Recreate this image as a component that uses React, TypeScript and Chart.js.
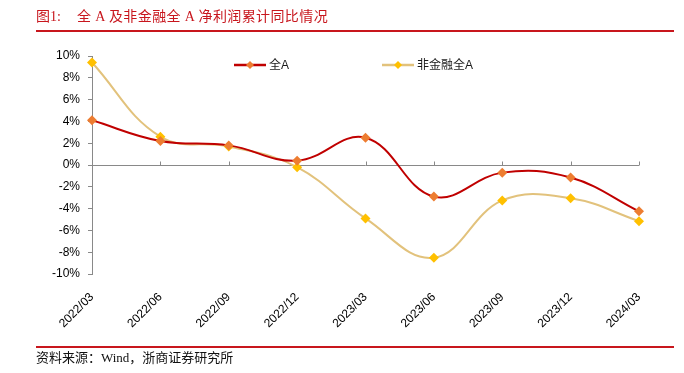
import React, { useEffect, useRef } from "react";
import { Chart, registerables } from "chart.js";

Chart.register(...registerables);

const categories = ["2022/03", "2022/06", "2022/09", "2022/12", "2023/03", "2023/06", "2023/09", "2023/12", "2024/03"];
const seriesAllA = [4.1, 2.2, 1.8, 0.4, 2.5, -2.9, -0.7, -1.15, -4.25];
const seriesNonFin = [9.4, 2.6, 1.7, -0.2, -4.9, -8.5, -3.25, -3.05, -5.15];
const seriesNames = ["全A", "非金融全A"];
const yTicks = { min: -10, max: 10, step: 2 };

const LINE_COLORS = ["#C00000", "#E2C27C"];
const MARKER_COLORS = ["#ED7D31", "#FFC000"];
const AXIS_COLOR = "#898989";
const FONT = "'Liberation Sans', Arial, 'Noto Sans CJK SC', sans-serif";

const zeroLinePlugin = {
  id: "zeroLine",
  beforeDatasetsDraw(chart: any) {
    const { ctx, chartArea, scales } = chart;
    const x = scales.x;
    const y = scales.y;
    const y0 = Math.round(y.getPixelForValue(0)) + 0.5;
    ctx.save();
    ctx.strokeStyle = AXIS_COLOR;
    ctx.lineWidth = 1;
    ctx.beginPath();
    ctx.moveTo(chartArea.left, y0);
    ctx.lineTo(chartArea.right, y0);
    for (let i = 0; i < categories.length; i++) {
      const px = Math.round(x.getPixelForValue(i)) + 0.5;
      ctx.moveTo(px, y0);
      ctx.lineTo(px, y0 - 4);
    }
    ctx.stroke();
    ctx.restore();
  },
};

function drawDiamond(ctx: CanvasRenderingContext2D, cx: number, cy: number, r: number, color: string) {
  ctx.beginPath();
  ctx.moveTo(cx, cy - r);
  ctx.lineTo(cx + r, cy);
  ctx.lineTo(cx, cy + r);
  ctx.lineTo(cx - r, cy);
  ctx.closePath();
  ctx.fillStyle = color;
  ctx.fill();
}

const legendPlugin = {
  id: "customLegend",
  afterDraw(chart: any) {
    const { ctx } = chart;
    const items = [
      { x0: 234, x1: 266, tx: 269 },
      { x0: 382, x1: 414, tx: 417 },
    ];
    const ly = 65;
    ctx.save();
    items.forEach((it, i) => {
      ctx.strokeStyle = LINE_COLORS[i];
      ctx.lineWidth = 2.5;
      ctx.beginPath();
      ctx.moveTo(it.x0, ly);
      ctx.lineTo(it.x1, ly);
      ctx.stroke();
      drawDiamond(ctx, (it.x0 + it.x1) / 2, ly, 4, MARKER_COLORS[i]);
      ctx.fillStyle = "#1a1a1a";
      ctx.font = `12px ${FONT}`;
      ctx.textAlign = "left";
      ctx.textBaseline = "middle";
      ctx.fillText(seriesNames[i], it.tx, ly + 0.5);
    });
    ctx.restore();
  },
};

export default function App() {
  const canvasRef = useRef<HTMLCanvasElement | null>(null);

  useEffect(() => {
    if (!canvasRef.current) return;
    const chart = new Chart(canvasRef.current, {
      type: "line",
      data: {
        labels: categories,
        datasets: [
          {
            label: seriesNames[0],
            data: seriesAllA,
            borderColor: LINE_COLORS[0],
            borderWidth: 2,
            tension: 0.4,
            pointStyle: "rectRot",
            pointRadius: 5,
            pointBackgroundColor: MARKER_COLORS[0],
            pointBorderColor: MARKER_COLORS[0],
            pointBorderWidth: 0,
          },
          {
            label: seriesNames[1],
            data: seriesNonFin,
            borderColor: LINE_COLORS[1],
            borderWidth: 2,
            tension: 0.4,
            pointStyle: "rectRot",
            pointRadius: 5,
            pointBackgroundColor: MARKER_COLORS[1],
            pointBorderColor: MARKER_COLORS[1],
            pointBorderWidth: 0,
          },
        ],
      },
      options: {
        responsive: false,
        animation: false,
        layout: { padding: { left: 0, right: 45, top: 56, bottom: 39 } },
        plugins: {
          legend: { display: false },
          tooltip: { enabled: false },
        },
        scales: {
          x: {
            type: "category",
            offset: false,
            grid: { display: false },
            border: { display: false },
            ticks: {
              autoSkip: false,
              maxRotation: 45,
              minRotation: 45,
              padding: 8,
              color: "#000",
              font: { family: FONT, size: 12 },
            },
            afterFit(scale: any) {
              scale.height = 60;
            },
          },
          y: {
            min: yTicks.min,
            max: yTicks.max,
            grid: {
              drawOnChartArea: false,
              drawTicks: true,
              tickLength: 4,
              color: AXIS_COLOR,
            },
            border: { display: true, color: AXIS_COLOR, width: 1 },
            ticks: {
              stepSize: yTicks.step,
              padding: 8,
              color: "#000",
              font: { family: FONT, size: 12 },
              callback: (v: any) => `${v}%`,
            },
            afterFit(scale: any) {
              scale.width = 92;
            },
          },
        },
      },
      plugins: [zeroLinePlugin, legendPlugin],
    });
    return () => chart.destroy();
  }, []);

  return (
    <div style={{ position: "fixed", left: 0, top: 0, width: 684, height: 373, background: "#fff", overflow: "hidden" }}>
      <canvas ref={canvasRef} width={684} height={373} style={{ position: "absolute", left: 0, top: 0, width: 684, height: 373 }} />
      <div
        style={{
          position: "absolute",
          left: 36,
          top: 7,
          fontSize: 14,
          lineHeight: "20px",
          color: "#C8161D",
          fontFamily: "'Liberation Serif', 'Noto Sans CJK SC', serif",
          whiteSpace: "pre",
        }}
      >
        <span>图1:</span>
        <span style={{ position: "absolute", left: 41, top: 0, letterSpacing: 0.4 }}>全 A 及非金融全 A 净利润累计同比情况</span>
      </div>
      <div style={{ position: "absolute", left: 36, top: 30, width: 638, height: 1.5, background: "#C8161D" }} />
      <div style={{ position: "absolute", left: 36, top: 346, width: 638, height: 1.5, background: "#C8161D" }} />
      <div
        style={{
          position: "absolute",
          left: 36,
          top: 349,
          fontSize: 13,
          lineHeight: "18px",
          color: "#111",
          fontFamily: "'Liberation Serif', 'Noto Sans CJK SC', serif",
          whiteSpace: "pre",
        }}
      >
        资料来源：Wind，浙商证券研究所
      </div>
    </div>
  );
}
